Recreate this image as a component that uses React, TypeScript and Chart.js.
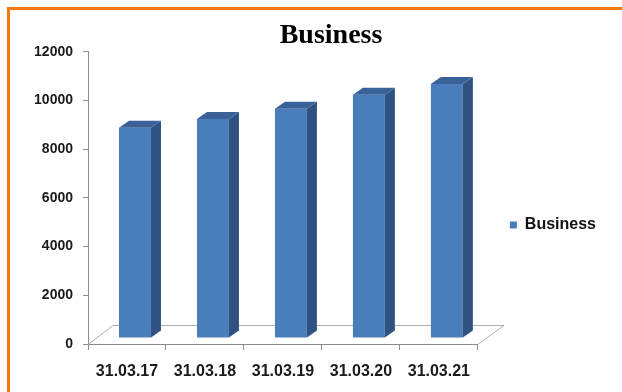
import { useEffect, useRef } from "react";
import { Chart, registerables } from "chart.js";

Chart.register(...registerables);

const categories = ["31.03.17", "31.03.18", "31.03.19", "31.03.20", "31.03.21"];
const businessValues = [8630, 8990, 9410, 9990, 10430];
const seriesName = "Business";
const chartTitle = "Business";
const yMin = 0;
const yMax = 12000;
const yStep = 2000;

const FRONT = "#4A7EBB";
const SIDE = "#2F5282";
const TOP = "#3A6299";
const AXIS = "#8c8c8c";
const SANS = "'Liberation Sans', Arial, sans-serif";

const bar3d = {
  id: "bar3d",
  afterLayout(chart: any) {
    // centre the title over the region right of the value labels, as in the original
    if (chart.titleBlock) chart.titleBlock.left = 56;
  },
  beforeDatasetsDraw(chart: any) {
    const { ctx, scales } = chart;
    const xs = scales.x;
    const ys = scales.y;
    const y0 = Math.round(ys.getPixelForValue(0)) + 0.5;
    ctx.save();
    ctx.strokeStyle = "#b0b0b0";
    ctx.lineWidth = 1;
    ctx.beginPath();
    ctx.moveTo(xs.left, y0);
    ctx.lineTo(xs.left + 25, y0 - 19);
    ctx.lineTo(xs.right + 26, y0 - 19);
    ctx.lineTo(xs.right, y0);
    ctx.stroke();
    ctx.restore();
    ctx.save();
    ctx.translate(8, -6);
  },
  afterDatasetsDraw(chart: any) {
    const ctx = chart.ctx;
    const meta = chart.getDatasetMeta(0);
    const dx = 10;
    const dy = 7;
    meta.data.forEach((bar: any) => {
      const { x, y, base, width } = bar.getProps(["x", "y", "base", "width"], true);
      const l = x - width / 2;
      const r = x + width / 2;
      ctx.fillStyle = SIDE;
      ctx.beginPath();
      ctx.moveTo(r, y);
      ctx.lineTo(r + dx, y - dy);
      ctx.lineTo(r + dx, base - dy);
      ctx.lineTo(r, base);
      ctx.closePath();
      ctx.fill();
      ctx.fillStyle = TOP;
      ctx.beginPath();
      ctx.moveTo(l, y);
      ctx.lineTo(l + dx, y - dy);
      ctx.lineTo(r + dx, y - dy);
      ctx.lineTo(r, y);
      ctx.closePath();
      ctx.fill();
    });
    ctx.restore();
  },
};

export default function App() {
  const canvasRef = useRef<HTMLCanvasElement | null>(null);

  useEffect(() => {
    if (!canvasRef.current) return;
    const chart = new Chart(canvasRef.current, {
      type: "bar",
      data: {
        labels: categories,
        datasets: [
          {
            label: seriesName,
            data: businessValues,
            backgroundColor: FRONT,
            borderWidth: 0,
            barPercentage: 0.41,
            categoryPercentage: 1,
            clip: false as any,
          },
        ],
      },
      options: {
        responsive: false,
        animation: false,
        events: [],
        layout: { padding: { left: 8, right: 16, top: 0, bottom: 0 } },
        plugins: {
          title: {
            display: true,
            text: chartTitle,
            color: "#000",
            font: {
              family: "'Liberation Serif', 'Times New Roman', serif",
              size: 28,
              weight: "bold",
              lineHeight: 1.1,
            },
            padding: { top: 20, bottom: 1 },
          },
          legend: {
            position: "right",
            align: "center",
            title: { display: true, text: "", font: { size: 10 }, padding: { top: 46, bottom: 0 } },
            labels: {
              boxWidth: 7,
              boxHeight: 7,
              padding: 32,
              color: "#111",
              font: { family: SANS, size: 16, weight: "bold" },
            },
          },
          tooltip: { enabled: false },
        },
        scales: {
          x: {
            grid: {
              display: true,
              offset: true,
              drawOnChartArea: false,
              drawTicks: true,
              tickLength: 6,
              color: AXIS,
            },
            border: { display: true, color: AXIS },
            ticks: {
              color: "#1a1a1a",
              padding: 12,
              maxRotation: 0,
              font: { family: SANS, size: 16, weight: "bold" },
            },
            afterFit: (s: any) => {
              s.height = 48;
            },
          },
          y: {
            min: yMin,
            max: yMax,
            grid: {
              display: true,
              drawOnChartArea: false,
              drawTicks: true,
              tickLength: 5,
              color: AXIS,
            },
            border: { display: true, color: AXIS },
            ticks: {
              stepSize: yStep,
              padding: 10,
              color: "#1a1a1a",
              font: { family: SANS, size: 14, weight: "bold" },
              callback: (v: any) => String(v),
            },
            afterFit: (s: any) => {
              s.width = 80;
            },
          },
        },
      },
      plugins: [bar3d],
    } as any);
    return () => chart.destroy();
  }, []);

  return (
    <div
      style={{
        position: "fixed",
        left: 0,
        top: 0,
        width: 622,
        height: 392,
        background: "#fff",
        overflow: "hidden",
      }}
    >
      <div
        style={{
          position: "absolute",
          left: 7,
          top: 7,
          width: 700,
          height: 500,
          borderTop: "3px solid #F7790F",
          borderLeft: "3px solid #F7790F",
        }}
      />
      <canvas
        ref={canvasRef}
        width={622}
        height={392}
        style={{ position: "absolute", left: 0, top: 0, width: 622, height: 392 }}
      />
    </div>
  );
}
